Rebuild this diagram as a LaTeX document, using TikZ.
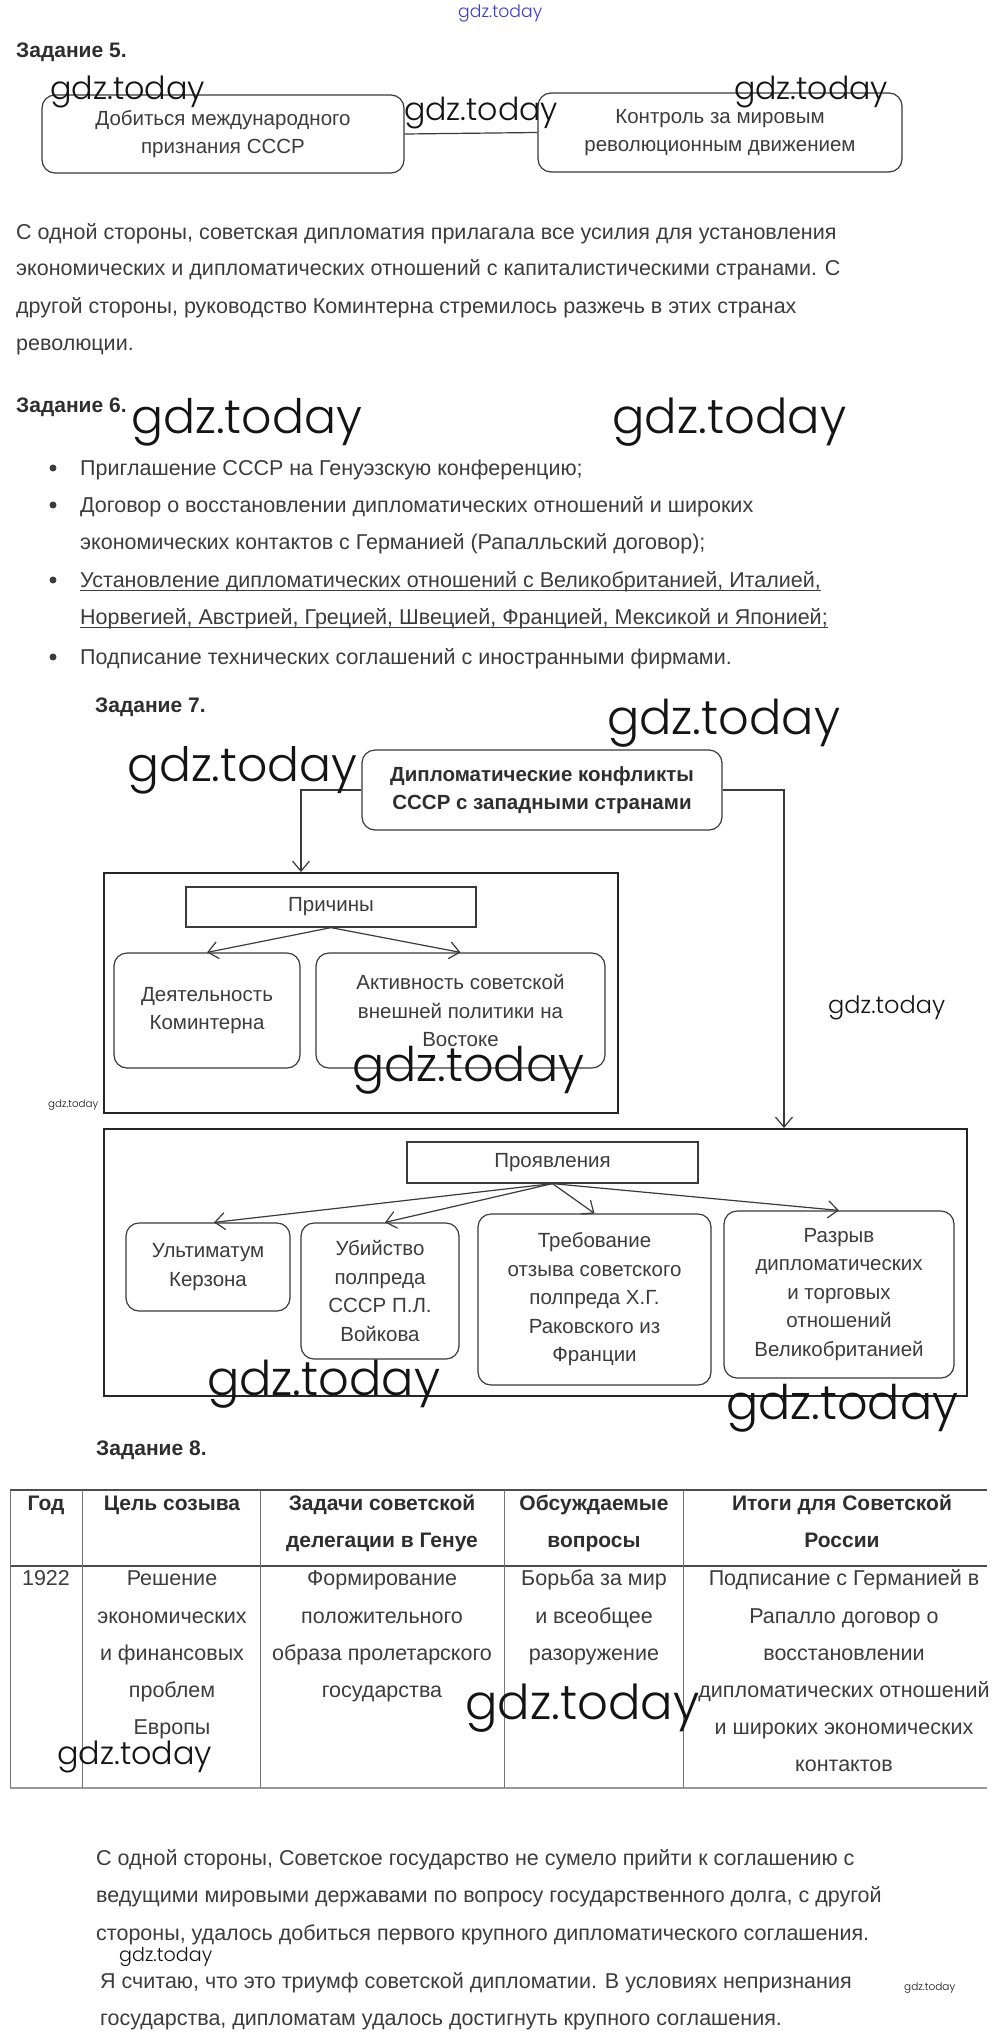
\documentclass[tikz,border=0pt]{standalone}
\usepackage{fontspec}
\setmainfont{Liberation Sans}
\IfFontExistsTF{Poppins Light}{\newfontfamily\wmfont{Poppins Light}}{\newfontfamily\wmfont{Poppins}}
\usepackage{graphicx}
\usetikzlibrary{arrows.meta}
\definecolor{tx}{HTML}{3C3C3C}
\definecolor{hx}{HTML}{2E2E2E}
\definecolor{bx}{HTML}{3A3A3A}
\definecolor{wmblue}{HTML}{3B3BD6}
\newcommand\wmtext[1]{\resizebox{#1pt}{!}{\wmfont gdz.today}}
\begin{document}
\begin{tikzpicture}[x=1pt,y=-1pt,
  line/.style={anchor=base west, inner sep=0, font=\fontsize{21.5}{26}\selectfont, text=tx},
  head/.style={anchor=base west, inner sep=0, font=\fontsize{21}{26}\selectfont\bfseries, text=hx},
  cell/.style={anchor=base, inner sep=0, font=\fontsize{21.5}{26}\selectfont, text=tx},
  hcell/.style={anchor=base, inner sep=0, font=\fontsize{21}{26}\selectfont\bfseries, text=hx},
  rbox/.style={draw=bx, line width=1.2pt, rounded corners=13pt, align=center, inner sep=0, font=\fontsize{20.5}{28.5}\selectfont, text=tx},
  sbox/.style={draw=bx, line width=1.2pt, align=center, inner sep=0, font=\fontsize{20.5}{28.5}\selectfont, text=tx},
  frame/.style={draw=black!85, line width=2pt, inner sep=0},
  arr/.style={draw=bx, line width=1.2pt, -{Straight Barb[length=10pt,width=17pt]}},
  conn/.style={draw=bx, line width=1.2pt},
  bul/.style={circle, fill=tx, inner sep=0, minimum size=7pt},
  wm/.style={inner sep=0, anchor=west, text=black!92},
  tline/.style={draw=black!70, line width=1.2pt},
  vline/.style={draw=black!55, line width=1pt}
]
\fill[white] (0,0) rectangle (1000,2043);
\useasboundingbox (0,0) rectangle (1000,2043);

% ---------- Задание 5 ----------
\node[head] (h5) at (16,57) {Задание 5.};
\node[rbox, minimum width=362pt, minimum height=78pt] (b1) at (223,134) {Добиться международного\\признания СССР};
\node[rbox, minimum width=364pt, minimum height=79pt] (b2) at (720,132.5) {Контроль за мировым\\революционным движением};
\draw[conn] (b1.east) -- (b2.west);

\node[line] (p1) at (16,239) {С одной стороны, советская дипломатия прилагала все усилия для установления};
\node[line] (p2) at (16,275) {экономических и дипломатических отношений с капиталистическими странами. С};
\node[line] (p3) at (16,313) {другой стороны, руководство Коминтерна стремилось разжечь в этих странах};
\node[line] (p4) at (16,350) {революции.};

% ---------- Задание 6 ----------
\node[head] (h6) at (16,412) {Задание 6.};
\node[bul] (bu1) at (53,468) {};
\node[line] (l1) at (80,475) {Приглашение СССР на Генуэзскую конференцию;};
\node[bul] (bu2) at (53,505) {};
\node[line] (l2) at (80,512) {Договор о восстановлении дипломатических отношений и широких};
\node[line] (l3) at (80,549) {экономических контактов с Германией (Рапалльский договор);};
\node[bul] (bu3) at (53,580) {};
\node[line] (l4) at (80,587) {Установление дипломатических отношений с Великобританией, Италией,};
\node[line] (l5) at (80,624) {Норвегией, Австрией, Грецией, Швецией, Францией, Мексикой и Японией;};
\draw[draw=tx, line width=1pt] ([yshift=-3pt]l4.base west) -- ([yshift=-3pt]l4.base east);
\draw[draw=tx, line width=1pt] ([yshift=-3pt]l5.base west) -- ([yshift=-3pt]l5.base east);
\node[bul] (bu4) at (53,657) {};
\node[line] (l6) at (80,664) {Подписание технических соглашений с иностранными фирмами.};

% ---------- Задание 7 ----------
\node[head] (h7) at (95,712) {Задание 7.};
\node[rbox, minimum width=360pt, minimum height=80pt, font=\fontsize{20.5}{28.5}\selectfont\bfseries, text=hx] (top) at (542,790) {Дипломатические конфликты\\СССР с западными странами};

\node[frame, minimum width=514pt, minimum height=240pt] (causes) at (361,993) {};
\node[sbox, minimum width=290pt, minimum height=40pt] (prich) at (331,907) {Причины};
\node[rbox, minimum width=186pt, minimum height=115pt] (deyat) at (207,1010.5) {Деятельность\\Коминтерна};
\node[rbox, minimum width=289pt, minimum height=115pt] (aktiv) at (460.5,1010.5) {Активность советской\\внешней политики на\\Востоке};
\draw[arr] (prich.south) -- (deyat.north);
\draw[arr] (prich.south) -- (aktiv.north);

\node[frame, minimum width=863pt, minimum height=267pt] (manif) at (535.5,1262.5) {};
\node[sbox, minimum width=291pt, minimum height=41pt] (proyav) at (552.5,1162.5) {Проявления};
\node[rbox, minimum width=164pt, minimum height=88pt] (ult) at (208,1267) {Ультиматум\\Керзона};
\node[rbox, minimum width=158pt, minimum height=136pt] (ubiy) at (380,1291) {Убийство\\полпреда\\СССР П.Л.\\Войкова};
\node[rbox, minimum width=233pt, minimum height=171pt] (treb) at (594.5,1299.5) {Требование\\отзыва советского\\полпреда Х.Г.\\Раковского из\\Франции};
\node[rbox, minimum width=230pt, minimum height=167pt] (razr) at (839,1294.5) {Разрыв\\дипломатических\\и торговых\\отношений\\Великобританией};
\draw[arr] (proyav.south) -- ([xshift=6pt]ult.north);
\draw[arr] (proyav.south) -- ([xshift=5pt]ubiy.north);
\draw[arr] (proyav.south) -- (treb.north);
\draw[arr] (proyav.south) -- (razr.north);

\coordinate (cx1) at (301,790);
\coordinate (cx2) at (784,790);
\draw[arr] (top.west) -| (cx1 |- causes.north);
\draw[arr] (top.east) -| (cx2 |- manif.north);

% ---------- Задание 8 ----------
\node[head] (h8) at (96,1455) {Задание 8.};
\draw[tline] (10,1490) -- (987,1490);
\draw[tline] (10,1566) -- (987,1566);
\draw[draw=black!40, line width=2.5pt] (10,1788) -- (987,1788);
\foreach \xx in {10,82,260,504,683} {\draw[vline] (\xx,1490) -- (\xx,1788);}

\node[hcell] (th1) at (46,1510) {Год};
\node[hcell] (th2) at (172,1510) {Цель созыва};
\node[hcell] (th3a) at (382,1510) {Задачи советской};
\node[hcell] (th3b) at (382,1547) {делегации в Генуе};
\node[hcell] (th4a) at (594,1510) {Обсуждаемые};
\node[hcell] (th4b) at (594,1547) {вопросы};
\node[hcell] (th5a) at (842,1510) {Итоги для Советской};
\node[hcell] (th5b) at (842,1547) {России};

\node[cell] (c1) at (46,1585) {1922};
\node[cell] (c2a) at (172,1585) {Решение};
\node[cell] (c2b) at (172,1623) {экономических};
\node[cell] (c2c) at (172,1660) {и финансовых};
\node[cell] (c2d) at (172,1697) {проблем};
\node[cell] (c2e) at (172,1734) {Европы};
\node[cell] (c3a) at (382,1585) {Формирование};
\node[cell] (c3b) at (382,1623) {положительного};
\node[cell] (c3c) at (382,1660) {образа пролетарского};
\node[cell] (c3d) at (382,1697) {государства};
\node[cell] (c4a) at (594,1585) {Борьба за мир};
\node[cell] (c4b) at (594,1623) {и всеобщее};
\node[cell] (c4c) at (594,1660) {разоружение};
\node[cell] (c5a) at (844,1585) {Подписание с Германией в};
\node[cell] (c5b) at (844,1623) {Рапалло договор о};
\node[cell] (c5c) at (844,1660) {восстановлении};
\node[cell] (c5d) at (844,1697) {дипломатических отношений};
\node[cell] (c5e) at (844,1734) {и широких экономических};
\node[cell] (c5f) at (844,1771) {контактов};

\node[line] (q1) at (96,1865) {С одной стороны, Советское государство не сумело прийти к соглашению с};
\node[line] (q2) at (96,1902) {ведущими мировыми державами по вопросу государственного долга, с другой};
\node[line] (q3) at (96,1940) {стороны, удалось добиться первого крупного дипломатического соглашения.};
\node[line] (q4) at (100,1988) {Я считаю, что это триумф советской дипломатии. В условиях непризнания};
\node[line] (q5) at (100,2025) {государства, дипломатам удалось достигнуть крупного соглашения.};

% ---------- watermarks ----------
\node[wm, text=wmblue] (w1) at (458,13) {\wmtext{84}};
\node[wm] (w2) at (50,92) {\wmtext{155}};
\node[wm] (w3) at (404,113) {\wmtext{154}};
\node[wm] (w4) at (734,92) {\wmtext{154}};
\node[wm] (w5) at (131,422) {\wmtext{231}};
\node[wm] (w6) at (612,422) {\wmtext{234}};
\node[wm] (w7) at (607,723) {\wmtext{233}};
\node[wm] (w8) at (127,770) {\wmtext{230}};
\node[wm] (w9) at (828,1008) {\wmtext{117}};
\node[wm] (w10) at (352,1070) {\wmtext{232}};
\node[wm] (w11) at (48,1105) {\wmtext{50}};
\node[wm] (w12) at (207,1384) {\wmtext{233}};
\node[wm] (w13) at (726,1408) {\wmtext{232}};
\node[wm] (w14) at (465,1708) {\wmtext{234}};
\node[wm] (w15) at (57,1757) {\wmtext{155}};
\node[wm] (w16) at (119,1957) {\wmtext{93}};
\node[wm] (w17) at (904,1988) {\wmtext{51}};
\end{tikzpicture}
\end{document}
